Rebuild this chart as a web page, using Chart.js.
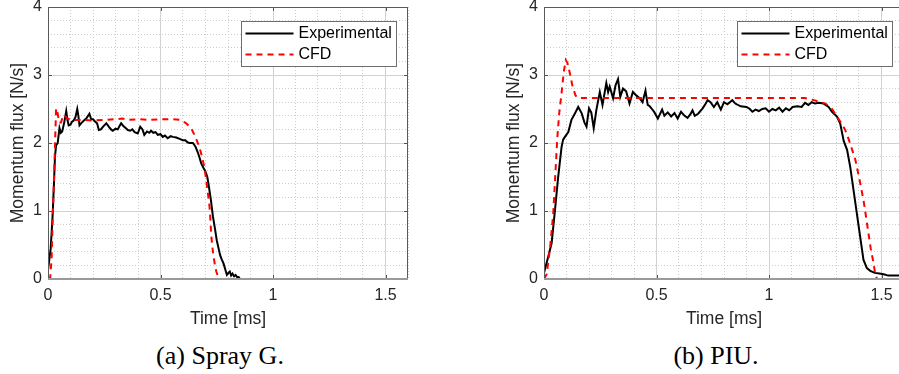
<!DOCTYPE html>
<html><head><meta charset="utf-8">
<script src="https://cdn.jsdelivr.net/npm/chart.js@4"></script>
<style>
html,body{margin:0;padding:0;background:#fff;width:899px;height:374px;overflow:hidden;position:relative}
.panel{position:absolute;top:0;width:420px;height:330px}
.cap{position:absolute;top:341px;line-height:30px;font-family:"Liberation Serif","Times New Roman",serif;font-size:26px;color:#000;white-space:nowrap;transform:translateX(-50%)}
</style></head><body>
<div class="panel" style="left:0"><canvas id="c1" width="420" height="330"></canvas></div>
<div class="panel" style="left:496px"><canvas id="c2" width="420" height="330"></canvas></div>
<div class="cap" style="left:220px">(a) Spray G.</div>
<div class="cap" style="left:716px">(b) PIU.</div>
<script>
// ---- Data (time in ms, momentum flux in N/s) ----
const seriesNames = ['Experimental', 'CFD'];
const xMajorTicks = [0, 0.5, 1, 1.5];
const xTickLabels = ['0', '0.5', '1', '1.5'];
const yMajorTicks = [0, 1, 2, 3, 4];
const yTickLabels = ['0', '1', '2', '3', '4'];

const sprayExpT = [0,0.012,0.02,0.026,0.031,0.036,0.043,0.051,0.057,0.063,0.072,0.081,0.087,0.092,0.1,0.106,0.114,0.122,0.13,0.135,0.14,0.15,0.16,0.17,0.184,0.192,0.2,0.208,0.218,0.226,0.235,0.245,0.259,0.27,0.28,0.288,0.3,0.31,0.318,0.325,0.335,0.345,0.355,0.365,0.375,0.385,0.399,0.41,0.42,0.428,0.44,0.45,0.458,0.468,0.478,0.488,0.5,0.51,0.52,0.532,0.545,0.555,0.57,0.585,0.599,0.61,0.62,0.629,0.644,0.655,0.666,0.674,0.681,0.69,0.7,0.708,0.715,0.724,0.733,0.742,0.75,0.758,0.765,0.772,0.78,0.787,0.795,0.802,0.808,0.814,0.82,0.827,0.834,0.84,0.847,0.854];
const sprayExpV = [0.13,0.45,0.9,1.36,1.8,1.97,2.0,2.22,2.15,2.17,2.3,2.47,2.33,2.26,2.27,2.31,2.33,2.38,2.5,2.4,2.26,2.3,2.33,2.36,2.43,2.35,2.35,2.32,2.29,2.19,2.2,2.24,2.29,2.24,2.2,2.18,2.21,2.2,2.25,2.29,2.25,2.22,2.19,2.18,2.2,2.16,2.14,2.24,2.2,2.12,2.17,2.15,2.18,2.15,2.16,2.12,2.13,2.09,2.11,2.07,2.1,2.09,2.08,2.06,2.04,2.04,2.01,2.0,2.0,1.95,1.86,1.78,1.7,1.64,1.58,1.5,1.36,1.16,0.92,0.74,0.57,0.45,0.35,0.29,0.23,0.15,0.06,0.09,0.11,0.05,0.08,0.04,0.06,0.03,0.03,0.0];

const sprayCfdT = [0,0.01,0.016,0.021,0.026,0.031,0.036,0.042,0.05,0.058,0.065,0.073,0.085,0.1,0.15,0.2,0.25,0.3,0.33,0.36,0.4,0.45,0.5,0.555,0.59,0.614,0.636,0.651,0.666,0.678,0.688,0.696,0.703,0.71,0.718,0.722,0.725,0.73,0.736,0.742,0.748,0.754,0.759];
const sprayCfdV = [0,0.02,0.3,0.9,1.4,1.95,2.51,2.45,2.3,2.3,2.38,2.41,2.36,2.34,2.34,2.33,2.34,2.35,2.36,2.34,2.35,2.34,2.35,2.35,2.34,2.29,2.22,2.12,2.0,1.88,1.75,1.62,1.46,1.28,1.06,0.86,0.67,0.48,0.33,0.2,0.11,0.05,0.0];

const piuExpT = [0,0.019,0.034,0.049,0.063,0.078,0.085,0.093,0.108,0.122,0.135,0.152,0.167,0.18,0.189,0.2,0.21,0.221,0.233,0.248,0.26,0.277,0.285,0.292,0.307,0.318,0.329,0.339,0.351,0.365,0.38,0.395,0.41,0.425,0.438,0.451,0.461,0.47,0.48,0.491,0.506,0.525,0.535,0.55,0.565,0.58,0.594,0.609,0.625,0.638,0.65,0.66,0.67,0.685,0.705,0.715,0.727,0.74,0.755,0.77,0.786,0.8,0.815,0.837,0.85,0.874,0.9,0.915,0.926,0.94,0.955,0.97,0.985,1.0,1.015,1.03,1.045,1.06,1.075,1.09,1.105,1.126,1.145,1.16,1.175,1.19,1.205,1.22,1.243,1.265,1.28,1.302,1.317,1.332,1.347,1.361,1.376,1.391,1.406,1.42,1.435,1.45,1.47,1.49,1.51,1.53,1.56,1.6];
const piuExpV = [0.09,0.33,0.53,1.02,1.5,1.94,2.05,2.09,2.16,2.34,2.42,2.53,2.44,2.3,2.24,2.51,2.45,2.22,2.49,2.75,2.56,2.88,2.75,2.83,2.66,2.85,2.94,2.68,2.8,2.76,2.58,2.75,2.7,2.66,2.6,2.77,2.56,2.54,2.5,2.45,2.36,2.49,2.4,2.45,2.39,2.44,2.36,2.46,2.4,2.37,2.42,2.48,2.4,2.43,2.51,2.56,2.63,2.6,2.53,2.6,2.49,2.6,2.57,2.63,2.58,2.54,2.53,2.5,2.46,2.49,2.47,2.5,2.51,2.46,2.5,2.48,2.52,2.46,2.51,2.48,2.53,2.54,2.53,2.59,2.56,2.6,2.58,2.59,2.58,2.53,2.46,2.39,2.28,2.03,1.9,1.65,1.3,0.95,0.6,0.28,0.16,0.12,0.09,0.08,0.07,0.05,0.05,0.05];

const piuCfdT = [0,0.012,0.027,0.041,0.059,0.068,0.078,0.088,0.097,0.104,0.112,0.127,0.14,0.152,0.3,0.5,0.7,0.9,1.1,1.16,1.2,1.251,1.28,1.302,1.32,1.339,1.36,1.384,1.4,1.42,1.432,1.442,1.452,1.462,1.472,1.48];
const piuCfdV = [0,0.07,0.46,0.96,2.07,2.45,2.73,3.05,3.22,3.18,3.07,2.83,2.7,2.66,2.66,2.66,2.66,2.66,2.66,2.66,2.63,2.58,2.5,2.39,2.3,2.19,2.0,1.75,1.5,1.16,0.9,0.67,0.45,0.28,0.08,0.0];

// ---- Styling ----
const SANS = '"Liberation Sans", Arial, Helvetica, sans-serif';
const TXT = '#262626';

const framePlugin = {
  id: 'frame',
  afterDraw(chart) {
    const {ctx, chartArea: a, scales} = chart;
    ctx.save();
    // inward tick marks
    ctx.strokeStyle = '#555';
    ctx.lineWidth = 1;
    ctx.beginPath();
    xMajorTicks.forEach(v => {
      const px = Math.round(scales.x.getPixelForValue(v)) + 0.5;
      ctx.moveTo(px, a.bottom); ctx.lineTo(px, a.bottom - 4);
      ctx.moveTo(px, a.top); ctx.lineTo(px, a.top + 4);
    });
    yMajorTicks.forEach(v => {
      const py = Math.round(scales.y.getPixelForValue(v)) + 0.5;
      ctx.moveTo(a.left, py); ctx.lineTo(a.left + 4, py);
      ctx.moveTo(a.right, py); ctx.lineTo(a.right - 4, py);
    });
    ctx.stroke();
    // box
    ctx.strokeStyle = '#5a5a5a';
    ctx.beginPath();
    ctx.moveTo(a.left + 0.5, a.bottom);
    ctx.lineTo(a.left + 0.5, a.top + 0.5);
    ctx.lineTo(a.right - 0.5, a.top + 0.5);
    ctx.lineTo(a.right - 0.5, a.bottom);
    ctx.stroke();
    ctx.strokeStyle = '#9a9a9a';
    ctx.lineWidth = 2;
    ctx.beginPath();
    ctx.moveTo(a.left, a.bottom);
    ctx.lineTo(a.right, a.bottom);
    ctx.stroke();

    // legend
    const bw = 155, bh = 45;
    const bx = Math.round(a.right - 12 - bw) + 0.5, by = Math.round(a.top + 14) + 0.5;
    ctx.fillStyle = '#fff';
    ctx.fillRect(bx, by, bw, bh);
    ctx.strokeStyle = '#6e6e6e';
    ctx.lineWidth = 1;
    ctx.strokeRect(bx, by, bw, bh);
    ctx.font = '16px ' + SANS;
    ctx.textBaseline = 'middle';
    ctx.textAlign = 'left';
    chart.data.datasets.forEach((ds, i) => {
      const yy = by + 12 + i * 21;
      ctx.strokeStyle = ds.borderColor;
      ctx.lineWidth = ds.borderWidth;
      ctx.setLineDash(ds.borderDash || []);
      ctx.beginPath();
      ctx.moveTo(bx + 4, yy); ctx.lineTo(bx + 52, yy);
      ctx.stroke();
      ctx.setLineDash([]);
      ctx.fillStyle = '#000';
      ctx.fillText(ds.label, bx + 57, yy + 0.5);
    });
    ctx.restore();
  }
};

function makeChart(id, expT, expV, cfdT, cfdV) {
  return new Chart(document.getElementById(id), {
    type: 'scatter',
    data: {
      datasets: [
        { label: seriesNames[0], data: expT.map((t, i) => ({x: t, y: expV[i]})),
          showLine: true, borderColor: '#000000', backgroundColor: '#000000',
          borderWidth: 2, pointRadius: 0, tension: 0, order: 1 },
        { label: seriesNames[1], data: cfdT.map((t, i) => ({x: t, y: cfdV[i]})),
          showLine: true, borderColor: '#ff0000', backgroundColor: '#ff0000',
          borderWidth: 2, borderDash: [6, 5], pointRadius: 0, tension: 0, order: 0 }
      ]
    },
    options: {
      responsive: false,
      animation: false,
      devicePixelRatio: 1,
      layout: { padding: { left: 0, right: 12, top: 7, bottom: 0 } },
      plugins: { legend: { display: false }, tooltip: { enabled: false } },
      scales: {
        x: {
          type: 'linear', position: 'bottom', min: 0, max: 1.6,
          afterBuildTicks: s => { s.ticks = xMajorTicks.map(v => ({value: v})); },
          ticks: { color: TXT, font: { family: SANS, size: 16 }, padding: 7, maxRotation: 0, autoSkip: false,
                   callback: (v, i) => xTickLabels[i] },
          grid: { color: '#d4d4d4', lineWidth: 1, drawTicks: false },
          border: { display: false },
          title: { display: true, text: 'Time [ms]', color: TXT, font: { family: SANS, size: 17.5 }, padding: 0 },
          afterFit: s => { s.height = 51; s.paddingLeft = 0; s.paddingRight = 0; }
        },
        xMinor: {
          type: 'linear', position: 'top', min: 0, max: 1.6,
          ticks: { display: false, stepSize: 0.1 },
          grid: { color: '#cdcdcd', lineWidth: 1, drawTicks: false },
          border: { display: false, dash: [1, 2] },
          afterFit: s => { s.height = 0; s.paddingLeft = 0; s.paddingRight = 0; }
        },
        y: {
          type: 'linear', position: 'left', min: 0, max: 4,
          afterBuildTicks: s => { s.ticks = yMajorTicks.map(v => ({value: v})); },
          ticks: { color: TXT, font: { family: SANS, size: 16 }, padding: 6,
                   callback: (v, i) => yTickLabels[i] },
          grid: { color: '#d4d4d4', lineWidth: 1, drawTicks: false },
          border: { display: false },
          title: { display: true, text: 'Momentum flux [N/s]', color: TXT, font: { family: SANS, size: 17.5 }, padding: { top: 8, bottom: 0 } },
          afterFit: s => { s.width = 48; s.paddingTop = 0; s.paddingBottom = 0; }
        },
        yMinor: {
          type: 'linear', position: 'right', min: 0, max: 4,
          ticks: { display: false, stepSize: 0.2 },
          grid: { color: '#cdcdcd', lineWidth: 1, drawTicks: false },
          border: { display: false, dash: [1, 2] },
          afterFit: s => { s.width = 0; s.paddingTop = 0; s.paddingBottom = 0; }
        }
      }
    },
    plugins: [framePlugin]
  });
}

makeChart('c1', sprayExpT, sprayExpV, sprayCfdT, sprayCfdV);
makeChart('c2', piuExpT, piuExpV, piuCfdT, piuCfdV);
</script>
</body></html>
